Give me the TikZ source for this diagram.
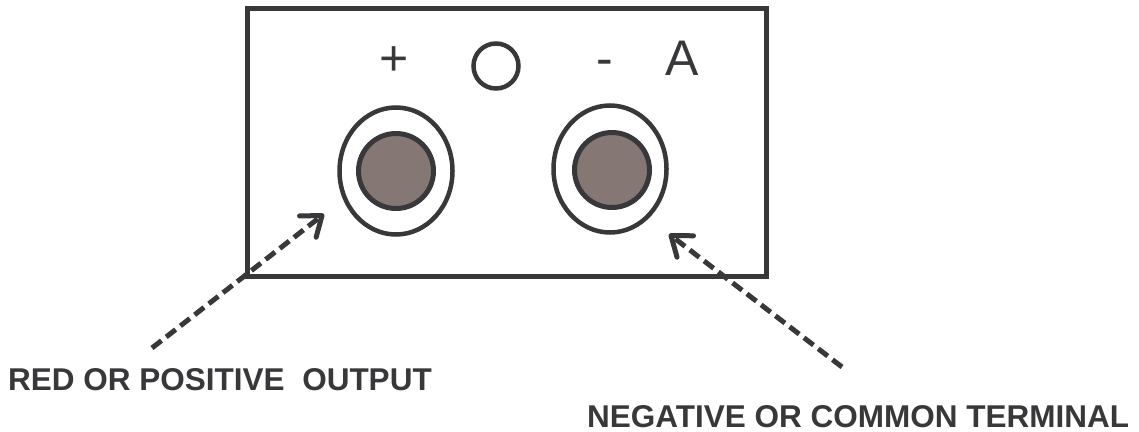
\documentclass[tikz,border=0pt]{standalone}
\usepackage{fontspec}
\setmainfont{Liberation Sans}
\usetikzlibrary{arrows.meta,shapes.geometric}
\definecolor{ink}{HTML}{38383B}
\definecolor{knob}{HTML}{857773}
\tikzset{
  panel/.style={draw=ink,line width=5pt},
  ring/.style={ellipse,draw=ink,line width=4.5pt,minimum width=113pt,minimum height=127pt,inner sep=0pt},
  post/.style={circle,draw=ink,fill=knob,line width=5pt,minimum size=75pt,inner sep=0pt},
  lamp/.style={circle,draw=ink,line width=4.5pt,minimum size=45pt,inner sep=0pt},
  sign/.style={text=ink,font=\fontsize{50}{50}\selectfont,inner sep=0pt,anchor=base},
  caption/.style={text=ink,font=\bfseries\fontsize{31.5}{31.5}\selectfont,inner sep=0pt,anchor=base west},
  pointer/.style={draw=ink,line width=5pt,dash pattern=on 12pt off 6pt,
    -{Straight Barb[length=18pt,width=27pt,line width=5pt,round]}}
}
\begin{document}
\begin{tikzpicture}[x=1pt,y=-1pt]
\useasboundingbox (0,0) rectangle (1139,431);
\draw[panel] (247,8) rectangle (766,276);
\node[sign] (plus) at (394,75) {+};
\node[lamp] (lampO) at (496,66) {};
\node[sign] (minus) at (605,75) {-};
\node[sign] (amp) at (682,75) {A};
\node[ring] (ringL) at (396,171) {};
\node[post] (postL) at (396,171) {};
\node[ring] (ringR) at (610,169) {};
\node[post] (postR) at (612,170) {};
\coordinate (startL) at (152,348);
\coordinate (tipL) at (324,214);
\coordinate (startR) at (842,367);
\coordinate (tipR) at (669,234);
\draw[pointer] (startL) -- (tipL);
\draw[pointer] (startR) -- (tipR);
\node[caption] (capL) at (8,390) {RED OR POSITIVE\ \ OUTPUT};
\node[caption] (capR) at (587,427) {NEGATIVE OR COMMON TERMINAL};
\end{tikzpicture}
\end{document}
